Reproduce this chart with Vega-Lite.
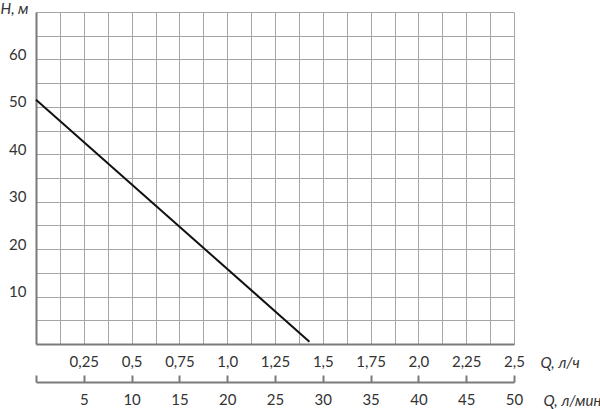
{
  "$schema": "https://vega.github.io/schema/vega-lite/v6.json",
  "width": 478,
  "height": 332,
  "autosize": "none",
  "padding": {"left": 36, "top": 12, "right": 86, "bottom": 65},
  "background": "white",
  "config": {
    "view": {"stroke": null},
    "font": "Lato",
    "axis": {"labelFont": "Lato", "labelFontSize": 15, "labelColor": "#333333", "titleFont": "Lato", "titleFontSize": 15, "titleFontWeight": "normal", "titleFontStyle": "italic", "titleColor": "#333333"}
  },
  "layer": [
    {
      "data": {"values": [{"Q": 0, "H": 51.5}, {"Q": 1.43, "H": 0.5}]},
      "mark": {"type": "line", "color": "#111111", "strokeWidth": 2},
      "encoding": {
        "x": {
          "field": "Q", "type": "quantitative",
          "scale": {"domain": [0, 2.5], "nice": false, "zero": false},
          "axis": {
            "values": [0, 0.125, 0.25, 0.375, 0.5, 0.625, 0.75, 0.875, 1, 1.125, 1.25, 1.375, 1.5, 1.625, 1.75, 1.875, 2, 2.125, 2.25, 2.375, 2.5],
            "labelExpr": "(datum.value == 0 || datum.value % 0.25 != 0) ? '' : (datum.value % 1 == 0 ? datum.value + ',0' : replace(datum.value + '', '.', ','))",
            "grid": true, "gridColor": "#a6a6a6", "gridWidth": 1,
            "ticks": false,
            "domainColor": "#7a7a7a", "domainWidth": 2,
            "labelPadding": 10, "labelFlush": false,
            "title": "Q, л/ч",
            "titleAnchor": "start", "titleAlign": "left", "titleBaseline": "middle",
            "titleX": 504, "titleY": 18
          }
        },
        "y": {
          "field": "H", "type": "quantitative",
          "scale": {"domain": [0, 70], "nice": false},
          "axis": {
            "values": [0, 5, 10, 15, 20, 25, 30, 35, 40, 45, 50, 55, 60, 65, 70],
            "labelExpr": "(datum.value % 10 == 0 && datum.value > 0 && datum.value <= 60) ? datum.value : ''",
            "grid": true, "gridColor": "#a6a6a6", "gridWidth": 1,
            "ticks": false,
            "domainColor": "#7a7a7a", "domainWidth": 2,
            "labelPadding": 10, "labelBaseline": "alphabetic", "labelFlush": false,
            "title": "H, м",
            "titleAngle": 0, "titleAlign": "left", "titleBaseline": "middle",
            "titleX": -36, "titleY": -4
          }
        }
      }
    },
    {
      "data": {"values": [{"Qm": 0}, {"Qm": 50}]},
      "mark": {"type": "point", "opacity": 0},
      "encoding": {
        "x": {
          "field": "Qm", "type": "quantitative",
          "scale": {"domain": [0, 50], "nice": false, "zero": false},
          "axis": {
            "orient": "bottom", "offset": 38,
            "values": [0, 5, 10, 15, 20, 25, 30, 35, 40, 45, 50],
            "labelExpr": "datum.value == 0 ? '' : datum.value",
            "grid": false,
            "ticks": true, "tickSize": -7, "tickColor": "#7a7a7a", "tickWidth": 2,
            "domainColor": "#7a7a7a", "domainWidth": 2,
            "labelPadding": 17, "labelFlush": false,
            "title": "Q, л/мин",
            "titleAnchor": "start", "titleAlign": "left", "titleBaseline": "middle",
            "titleX": 507, "titleY": 18
          }
        }
      }
    }
  ],
  "resolve": {"scale": {"x": "independent"}, "axis": {"x": "independent"}}
}
